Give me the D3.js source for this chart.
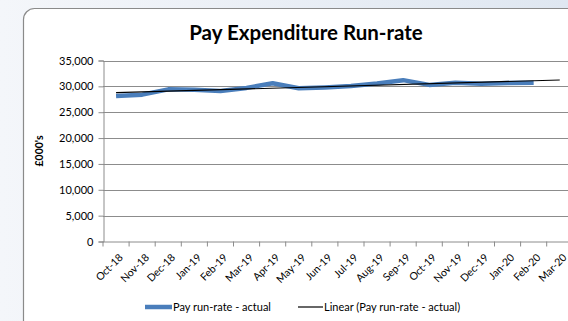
<!DOCTYPE html>
<html>
<head>
<meta charset="utf-8">
<script src="https://cdn.jsdelivr.net/npm/d3@7"></script>
<style>
  html, body { margin: 0; padding: 0; }
  body { width: 568px; height: 321px; overflow: hidden; }
  svg { display: block; font-family: Lato, "Open Sans", sans-serif; }
</style>
</head>
<body>
<svg id="chart" width="568" height="321"></svg>
<script>
// Monthly pay run-rate (£000's)
const months = ["Oct-18","Nov-18","Dec-18","Jan-19","Feb-19","Mar-19","Apr-19","May-19","Jun-19",
                "Jul-19","Aug-19","Sep-19","Oct-19","Nov-19","Dec-19","Jan-20","Feb-20","Mar-20"];
const payActual = [28150, 28400, 29420, 29350, 29100, 29700, 30600, 29620, 29800,
                   30050, 30550, 31200, 30280, 30700, 30500, 30650, 30700];
const yTicks = [0, 5000, 10000, 15000, 20000, 25000, 30000, 35000];
const seriesNames = ["Pay run-rate - actual", "Linear (Pay run-rate - actual)"];

const svg = d3.select("#chart");

// page backdrop
const defs = svg.append("defs");
const bg = defs.append("linearGradient").attr("id", "bg").attr("x1", "0").attr("x2", "1").attr("y1", "0").attr("y2", "0");
bg.append("stop").attr("offset", "0").attr("stop-color", "#f4f6fa");
bg.append("stop").attr("offset", "1").attr("stop-color", "#dfe7f1");
svg.append("rect").attr("width", 568).attr("height", 321).attr("fill", "url(#bg)");

// chart frame
svg.append("rect")
  .attr("x", 23.5).attr("y", 8.5).attr("width", 580).attr("height", 340)
  .attr("rx", 11).attr("ry", 11)
  .attr("fill", "#ffffff").attr("stroke", "#8a8a8a").attr("stroke-width", 1.2);

// title
svg.append("text")
  .attr("x", 306).attr("y", 40)
  .attr("text-anchor", "middle")
  .attr("font-size", 20.5).attr("font-weight", "bold").attr("fill", "#000")
  .text("Pay Expenditure Run-rate");

const plot = { left: 103, top: 60.5, bottom: 241.5 };
const step = 26.1;
const x = d3.scaleBand().domain(months).range([plot.left, plot.left + step * months.length]).padding(0);
const y = d3.scaleLinear().domain([0, 35000]).range([plot.bottom, plot.top]);

// gridlines
svg.append("g")
  .selectAll("line").data(yTicks.filter(d => d > 0)).join("line")
  .attr("x1", plot.left).attr("x2", 568)
  .attr("y1", d => Math.round(y(d)) + 0.5).attr("y2", d => Math.round(y(d)) + 0.5)
  .attr("stroke", "#8c8c8c").attr("stroke-width", 1);

// y axis
const yAxis = svg.append("g")
  .attr("transform", `translate(${plot.left + 0.5},0)`)
  .call(d3.axisLeft(y).tickValues(yTicks).tickSize(5).tickPadding(5).tickFormat(d3.format(",")));
yAxis.select(".domain").attr("stroke", "#8c8c8c");
yAxis.selectAll(".tick line").attr("stroke", "#8c8c8c");
yAxis.selectAll(".tick text").attr("font-size", 11).attr("fill", "#000").attr("font-family", "Lato, sans-serif");

// x axis
const xAxis = svg.append("g")
  .attr("transform", `translate(0,${plot.bottom})`)
  .call(d3.axisBottom(x).tickSize(0).tickFormat(""));
xAxis.select(".domain").attr("stroke", "#8c8c8c");
xAxis.selectAll(".tick").remove();
// tick marks on category boundaries
svg.append("g")
  .selectAll("line").data(d3.range(months.length + 1)).join("line")
  .attr("x1", i => plot.left + i * step).attr("x2", i => plot.left + i * step)
  .attr("y1", plot.bottom).attr("y2", plot.bottom + 5)
  .attr("stroke", "#8c8c8c");
// rotated category labels
svg.append("g")
  .selectAll("text").data(months).join("text")
  .attr("transform", d => `translate(${x(d) + x.bandwidth() / 2 + 5},${plot.bottom + 14}) rotate(-45)`)
  .attr("text-anchor", "end")
  .attr("dy", "0.35em")
  .attr("font-size", 10.5).attr("fill", "#000")
  .text(d => d);

// y axis title
svg.append("text")
  .attr("transform", `translate(43,151) rotate(-90)`)
  .attr("text-anchor", "middle")
  .attr("font-size", 10.5).attr("font-weight", "bold").attr("fill", "#000")
  .text("£000's");

const cx = i => x(months[i]) + x.bandwidth() / 2;

// actual series
const line = d3.line().x((d, i) => cx(i)).y(d => y(d));
svg.append("path")
  .datum(payActual)
  .attr("d", line)
  .attr("fill", "none").attr("stroke", "#4a7ebb").attr("stroke-width", 4.5)
  .attr("stroke-linejoin", "round");

// least-squares linear trend, extended one month ahead
const mx = d3.mean(payActual, (d, i) => i);
const my = d3.mean(payActual);
const slope = d3.sum(payActual, (d, i) => (i - mx) * (d - my)) / d3.sum(payActual, (d, i) => (i - mx) * (i - mx));
const intercept = my - slope * mx;
const trend = [0, months.length - 1].map(i => [cx(i), y(intercept + slope * i)]);
svg.append("path")
  .attr("d", d3.line()(trend))
  .attr("fill", "none").attr("stroke", "#000").attr("stroke-width", 1.2);

// legend
const lg = svg.append("g").attr("transform", "translate(0,307)");
lg.append("line").attr("x1", 145).attr("x2", 172).attr("y1", 0).attr("y2", 0)
  .attr("stroke", "#4a7ebb").attr("stroke-width", 4.5);
lg.append("text").attr("x", 173).attr("y", 0).attr("dy", "0.35em")
  .attr("font-size", 11).attr("fill", "#000").text(seriesNames[0]);
lg.append("line").attr("x1", 298).attr("x2", 323).attr("y1", 0).attr("y2", 0)
  .attr("stroke", "#000").attr("stroke-width", 1.2);
lg.append("text").attr("x", 324).attr("y", 0).attr("dy", "0.35em")
  .attr("font-size", 11).attr("fill", "#000").text(seriesNames[1]);
</script>
</body>
</html>
